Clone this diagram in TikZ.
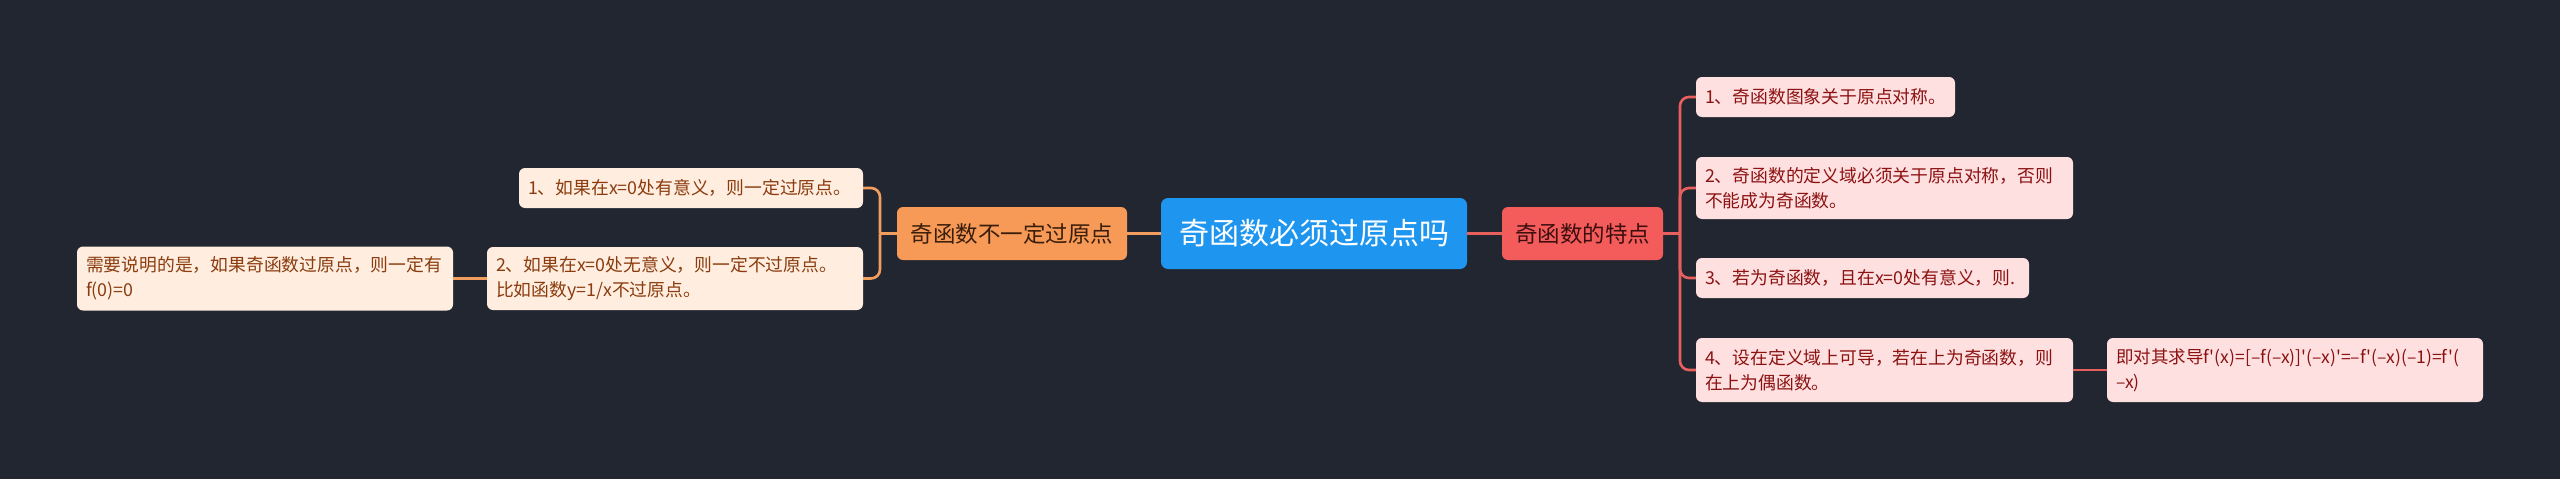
\documentclass[tikz,border=0pt]{standalone}
\usepackage{fontspec}
\setmainfont{Noto Sans CJK SC}
\newfontfamily\plaincjk{Noto Sans CJK SC}
\definecolor{bg}{RGB}{34,38,49}
\definecolor{rootfill}{RGB}{30,150,240}
\definecolor{lparfill}{RGB}{247,154,88}
\definecolor{lpartext}{RGB}{58,30,10}
\definecolor{rparfill}{RGB}{244,92,92}
\definecolor{rpartext}{RGB}{60,14,14}
\definecolor{lleaffill}{RGB}{255,237,224}
\definecolor{lleaftext}{RGB}{138,60,14}
\definecolor{rleaffill}{RGB}{255,224,224}
\definecolor{rleaftext}{RGB}{140,18,18}
\definecolor{lline}{RGB}{242,158,94}
\definecolor{rline}{RGB}{232,96,94}
\begin{document}
\begin{tikzpicture}[x=1pt,y=-1pt,
  rootbox/.style={fill=rootfill,text=white,rounded corners=7pt,inner sep=0pt,
    font=\fontsize{30}{36}\selectfont},
  lpar/.style={fill=lparfill,text=lpartext,rounded corners=6pt,inner sep=0pt,
    font=\fontsize{22.5}{28}\selectfont},
  rpar/.style={fill=rparfill,text=rpartext,rounded corners=6pt,inner sep=0pt,
    font=\fontsize{22.5}{28}\selectfont},
  lleaf/.style={fill=lleaffill,text=lleaftext,rounded corners=6pt,align=left,
    inner xsep=9pt,inner ysep=0pt,font=\fontsize{17.8}{25}\selectfont},
  rleaf/.style={fill=rleaffill,text=rleaftext,rounded corners=6pt,align=left,
    inner xsep=9pt,inner ysep=0pt,font=\fontsize{17.8}{25}\selectfont},
  lconn/.style={draw=lline,line width=2.6pt},
  rconn/.style={draw=rline,line width=2.6pt}]
\fill[bg] (0,0) rectangle (2560,479);
\useasboundingbox (0,0) rectangle (2560,479);

% nodes
\node[rootbox,minimum width=306pt,minimum height=71pt] (root) at (1314,233.5) {奇函数必须过原点吗};
\node[lpar,minimum width=230pt,minimum height=53pt] (lp) at (1012,233.5) {奇函数不一定过原点};
\node[rpar,minimum width=161pt,minimum height=53pt] (rp) at (1582.5,233.5) {奇函数的特点};

\node[lleaf,text width=326pt,minimum height=40pt] (l1) at (691,188) {1、如果在x=0处有意义，则一定过原点。};
\node[lleaf,text width=358pt,minimum height=63pt] (l2) at (675,278.5) {2、如果在x=0处无意义，则一定不过原点。\\比如函数y=1/x不过原点。};
\node[lleaf,text width=358pt,minimum height=64pt] (l3) at (265,278.5) {需要说明的是，如果奇函数过原点，则一定有\\f(0)=0};

\node[rleaf,text width=241pt,minimum height=40pt] (r1) at (1825.5,97) {1、奇函数图象关于原点对称。};
\node[rleaf,text width=359pt,minimum height=62pt] (r2) at (1884.5,188) {2、奇函数的定义域必须关于原点对称，否则\\不能成为奇函数。};
\node[rleaf,text width=315pt,minimum height=40pt] (r3) at (1862.5,278) {3、若为奇函数，且在x=0处有意义，则.};
\node[rleaf,text width=359pt,minimum height=64pt] (r4) at (1884.5,370) {4、设在定义域上可导，若在上为奇函数，则\\在上为偶函数。};
\node[rleaf,text width=358pt,minimum height=64pt,font=\plaincjk\fontsize{17.5}{25}\selectfont] (g1) at (2295,370) {即对其求导f'(x)=[–f(–x)]'(–x)'=–f'(–x)(–1)=f'(\\–x)};

% connectors
\coordinate (lb) at (880,233.5);
\coordinate (rb) at (1680,233.5);
\draw[lconn] (root.west) -- (lp.east);
\draw[lconn] (lp.west) -- (lb);
\draw[lconn,rounded corners=9pt] (lb) |- (l1.east);
\draw[lconn,rounded corners=9pt] (lb) |- (l2.east);
\draw[lconn] (l2.west) -- (l3.east);

\draw[rconn] (root.east) -- (rp.west);
\draw[rconn] (rp.east) -- (rb);
\draw[rconn,rounded corners=9pt] (rb) |- (r1.west);
\draw[rconn,rounded corners=9pt] (rb) |- (r2.west);
\draw[rconn,rounded corners=9pt] (rb) |- (r3.west);
\draw[rconn,rounded corners=9pt] (rb) |- (r4.west);
\draw[rconn] (r4.east) -- (g1.west);
\end{tikzpicture}
\end{document}
